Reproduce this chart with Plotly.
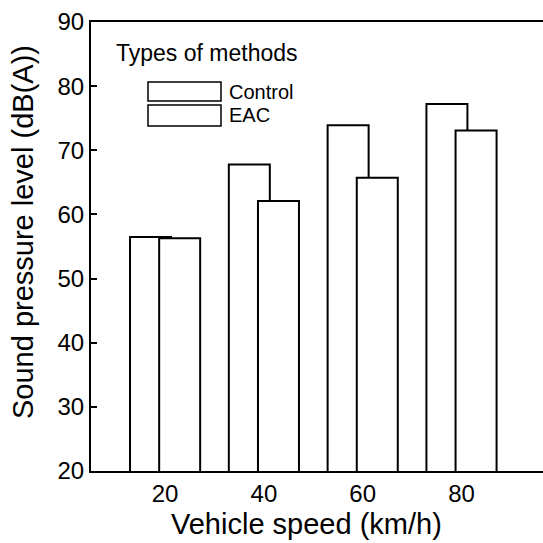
import plotly.graph_objects as go

speeds = [20, 40, 60, 80]
control = [56.5, 67.8, 73.9, 77.2]
eac = [56.3, 62.1, 65.7, 73.1]
series_names = ["Control", "EAC"]
legend_title = "Types of methods"
x_title = "Vehicle speed (km/h)"
y_title = "Sound pressure level (dB(A))"
y_ticks = [20, 30, 40, 50, 60, 70, 80, 90]

W = H = 543
L, R, T, B = 91, 0, 22, 72
FONT = "Liberation Sans, Arial, Helvetica, sans-serif"

def px(x):
    return (x - L) / (W - L - R)

def py(y):
    return (H - B - y) / (H - T - B)

fig = go.Figure()
bar_style = dict(marker=dict(color="white", line=dict(color="black", width=2)),
                 width=8.3, showlegend=False)
fig.add_trace(go.Bar(x=speeds, y=control, name=series_names[0], offset=-7.1, base=0, **bar_style))
fig.add_trace(go.Bar(x=speeds, y=eac, name=series_names[1], offset=-1.2, base=0, **bar_style))

fig.update_layout(
    width=W, height=H,
    margin=dict(l=L, r=R, t=T, b=B, pad=0),
    paper_bgcolor="white", plot_bgcolor="white",
    barmode="overlay",
    font=dict(family=FONT, color="black"),
    showlegend=False,
)
fig.update_xaxes(range=[5, 96.5], tickvals=speeds, ticktext=[str(s) for s in speeds],
                 ticks="", showgrid=False, zeroline=False,
                 showline=True, linecolor="black", linewidth=2, mirror=True,
                 tickfont=dict(size=24, family=FONT))
fig.update_yaxes(range=[20, 90], tickvals=y_ticks, ticks="inside", ticklen=6,
                 tickwidth=1.5, tickcolor="black", showgrid=False, zeroline=False,
                 showline=True, linecolor="black", linewidth=2, mirror=False,
                 tickfont=dict(size=24, family=FONT))

# axis titles
fig.add_annotation(text=x_title, xref="paper", yref="paper", x=px(306), y=py(524),
                   showarrow=False, font=dict(size=29, family=FONT),
                   xanchor="center", yanchor="middle")
fig.add_annotation(text=y_title, xref="paper", yref="paper", x=px(23), y=py(232),
                   showarrow=False, font=dict(size=29, family=FONT), textangle=-90,
                   xanchor="center", yanchor="middle")

# legend (drawn manually to match the wide rectangular swatches)
fig.add_annotation(text=legend_title, xref="paper", yref="paper", x=px(114), y=py(53),
                   showarrow=False, font=dict(size=23, family=FONT),
                   xanchor="left", yanchor="middle")
boxes = [(82, 101), (105, 126)]
for name, (y0, y1) in zip(series_names, boxes):
    fig.add_shape(type="rect", xref="paper", yref="paper",
                  x0=px(148), x1=px(221), y0=py(y1), y1=py(y0),
                  line=dict(color="black", width=1.5), fillcolor="white")
    fig.add_annotation(text=name, xref="paper", yref="paper", x=px(227), y=py((y0 + y1) / 2),
                       showarrow=False, font=dict(size=20, family=FONT),
                       xanchor="left", yanchor="middle")

fig.write_html("out.html")
